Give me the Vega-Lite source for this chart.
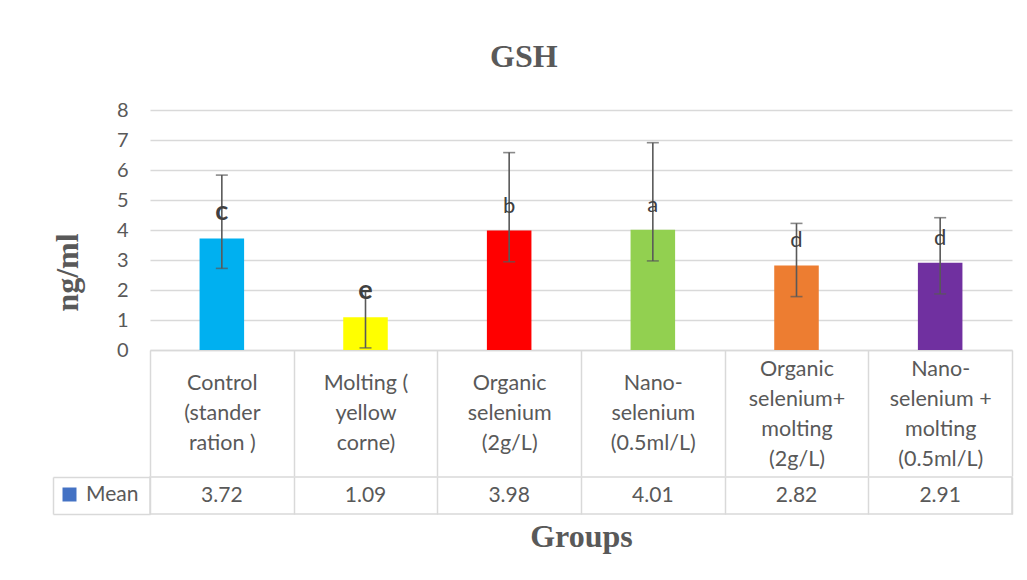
{
  "$schema": "https://vega.github.io/schema/vega-lite/v6.json",
  "background": "white",
  "padding": {"left": 51, "top": 41, "right": 5, "bottom": 5},
  "title": {"text": "GSH", "font": "Liberation Serif", "fontSize": 32, "fontWeight": "bold", "color": "#595959", "anchor": "middle", "offset": 26, "dx": -8},
  "data": {"values": [
    {"group": "Control|(stander|ration )", "mean": 3.72, "low": 2.72, "high": 5.83, "letter": "c"},
    {"group": "Molting (|yellow|corne)", "mean": 1.09, "low": 0.07, "high": 1.95, "letter": "e"},
    {"group": "Organic|selenium|(2g/L)", "mean": 3.98, "low": 2.94, "high": 6.58, "letter": "b"},
    {"group": "Nano-|selenium|(0.5ml/L)", "mean": 4.01, "low": 2.97, "high": 6.91, "letter": "a"},
    {"group": "Organic|selenium+|molting|(2g/L)", "mean": 2.82, "low": 1.78, "high": 4.22, "letter": "d"},
    {"group": "Nano-|selenium +|molting|(0.5ml/L)", "mean": 2.91, "low": 1.87, "high": 4.41, "letter": "d"}
  ]},
  "config": {"font": "Lato", "view": {"stroke": null}},
  "spacing": -3,
  "vconcat": [
    {
      "width": 862,
      "height": 240,
      "encoding": {
        "x": {"field": "group", "type": "nominal", "sort": null,
          "scale": {"paddingInner": 0, "paddingOuter": 0},
          "axis": {"title": null, "labelExpr": "split(datum.label, '|')", "labelAngle": 0, "labelFont": "Lato", "labelFontSize": 21.5, "labelColor": "#595959", "labelLineHeight": 30, "labelBaseline": "middle",
            "labelPadding": {"condition": {"test": "length(split(datum.value, '|')) > 3", "value": -107}, "value": -93},
            "labelLimit": 200, "tickBand": "extent", "tickSize": 126, "tickColor": "#d9d9d9", "tickWidth": 1.5, "domainColor": "#d9d9d9", "domainWidth": 1.5}}
      },
      "layer": [
        {
          "mark": {"type": "bar", "width": {"band": 0.31}},
          "encoding": {
            "y": {"field": "mean", "type": "quantitative", "scale": {"domain": [0, 8]},
              "axis": {"title": "ng/ml", "values": [0, 1, 2, 3, 4, 5, 6, 7, 8], "tickCount": 10, "labelOverlap": false, "grid": true, "gridColor": "#d9d9d9", "gridWidth": 1.3, "ticks": false, "domain": false, "labelFont": "Lato", "labelFontSize": 20, "labelColor": "#595959", "labelPadding": 22, "titleFont": "Liberation Serif", "titleFontSize": 32, "titleFontWeight": "bold", "titleColor": "#595959", "titleX": -73, "titleY": 162, "titleBaseline": "alphabetic", "titleAngle": -90}},
            "color": {"field": "group", "type": "nominal", "sort": null, "scale": {"range": ["#00B0F0", "#FFFF00", "#FF0000", "#92D050", "#ED7D31", "#7030A0"]}, "legend": null}
          }
        },
        {
          "mark": {"type": "rule", "color": "#595959", "strokeWidth": 1.6},
          "encoding": {"y": {"field": "low", "type": "quantitative", "axis": null}, "y2": {"field": "high"}}
        },
        {
          "mark": {"type": "tick", "color": "#595959", "size": 12, "thickness": 1.6},
          "encoding": {"y": {"field": "low", "type": "quantitative", "axis": null}}
        },
        {
          "mark": {"type": "tick", "color": "#595959", "size": 12, "thickness": 1.6},
          "encoding": {"y": {"field": "high", "type": "quantitative", "axis": null}}
        },
        {
          "transform": [{"filter": {"field": "letter", "oneOf": ["c", "e"]}}],
          "mark": {"type": "text", "font": "Lato", "fontSize": 27, "fontWeight": "bold", "color": "#404040", "baseline": "alphabetic", "dy": -18},
          "encoding": {"y": {"field": "mean", "type": "quantitative", "axis": null}, "text": {"field": "letter"}}
        },
        {
          "transform": [{"filter": {"not": {"field": "letter", "oneOf": ["c", "e"]}}}],
          "mark": {"type": "text", "font": "Lato", "fontSize": 22, "color": "#404040", "baseline": "alphabetic", "dy": -18},
          "encoding": {"y": {"field": "mean", "type": "quantitative", "axis": null}, "text": {"field": "letter"}}
        }
      ],
      "resolve": {"axis": {"y": "independent"}}
    },
    {
      "width": 862,
      "height": 37,
      "view": {"stroke": "#d9d9d9", "strokeWidth": 1.5},
      "layer": [
        {
          "mark": {"type": "text", "font": "Lato", "fontSize": 21, "color": "#595959"},
          "encoding": {
            "x": {"field": "group", "type": "nominal", "sort": null,
              "scale": {"paddingInner": 0, "paddingOuter": 0},
              "axis": {"title": "Groups", "labels": false, "ticks": false, "domain": false, "grid": true, "tickBand": "extent", "gridColor": "#d9d9d9", "gridWidth": 1.5, "titleFont": "Liberation Serif", "titleFontSize": 32, "titleFontWeight": "bold", "titleColor": "#595959", "titlePadding": 7}},
            "y": {"datum": "Mean", "type": "nominal",
              "scale": {"type": "band", "paddingInner": 0, "paddingOuter": 0},
              "axis": {"title": null, "labels": false, "domain": false, "ticks": true, "tickBand": "extent", "tickSize": 97, "tickColor": "#d9d9d9", "tickWidth": 1.5}},
            "text": {"field": "mean", "type": "quantitative", "format": ".2f"}
          }
        },
        {
          "mark": {"type": "point", "filled": true, "shape": "square", "opacity": 0},
          "encoding": {
            "y": {"datum": "Mean", "type": "nominal",
              "axis": {"orient": "left", "offset": 97, "title": null, "labels": false, "ticks": false, "domain": true, "domainColor": "#d9d9d9", "domainWidth": 1.5}},
            "fill": {"datum": "Mean", "type": "nominal", "scale": {"range": ["#4472C4"]},
              "legend": {"title": null, "orient": "none", "legendX": -91, "legendY": 374, "symbolType": "square", "symbolSize": 196, "symbolOpacity": 1, "symbolStrokeWidth": 0, "labelFont": "Lato", "labelFontSize": 21, "labelColor": "#595959", "labelOffset": 6}}
          }
        }
      ],
      "resolve": {"axis": {"y": "independent"}}
    }
  ]
}
